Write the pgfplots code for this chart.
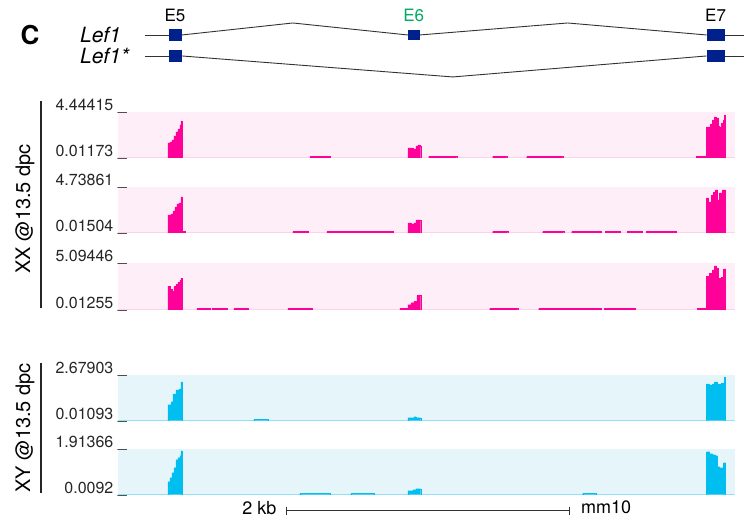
\documentclass[border=0pt]{standalone}
\usepackage{fontspec}
\setmainfont{TeX Gyre Heros}
\usepackage{pgfplots}
\pgfplotsset{compat=1.18}
\definecolor{pk}{RGB}{255,0,153}
\definecolor{pkbg}{RGB}{253,238,248}
\definecolor{bl}{RGB}{0,190,240}
\definecolor{blbg}{RGB}{230,245,250}
\definecolor{navy}{RGB}{0,32,140}
\definecolor{egreen}{RGB}{0,170,100}
\definecolor{gl}{RGB}{50,50,50}
\pgfplotsset{track/.style={
  scale only axis, width=617pt, height=46pt, xmin=118, xmax=735,
  axis line style={draw=none}, tick style={draw=none}, xtick=\empty,
  anchor=south west, clip=true,
  yticklabel style={anchor=base east, inner sep=0pt, xshift=9pt, yshift=1pt,
     font=\fontsize{16}{16}\selectfont, text=black!85},
}}
\begin{document}
\begin{tikzpicture}
\path (0,0) rectangle (744pt,518pt);
% ---------- canvas: gene model, labels, scale bar ----------
\begin{axis}[at={(0pt,0pt)}, anchor=south west, scale only axis,
  width=744pt, height=518pt, xmin=0, xmax=744, ymin=0, ymax=518,
  y dir=reverse, hide axis, clip=false]
% Lef1 introns
\addplot[gl, line width=0.9pt] coordinates {(145,35)(169,35)};
\addplot[gl, line width=0.9pt] coordinates {(182,35)(293,23)(408,35)};
\addplot[gl, line width=0.9pt] coordinates {(420,35)(568,23)(707,35)};
\addplot[gl, line width=0.9pt] coordinates {(725,35)(744,35)};
% Lef1* introns
\addplot[gl, line width=0.9pt] coordinates {(145,56)(169,56)};
\addplot[gl, line width=0.9pt] coordinates {(182,56)(453,77)(707,56)};
\addplot[gl, line width=0.9pt] coordinates {(725,56)(744,56)};
% exons
\addplot[fill=navy, draw=none] coordinates {(169,29)(182,29)(182,41)(169,41)} -- cycle;
\addplot[fill=navy, draw=none] coordinates {(408,30)(420,30)(420,40)(408,40)} -- cycle;
\addplot[fill=navy, draw=none] coordinates {(707,29)(725,29)(725,41)(707,41)} -- cycle;
\addplot[fill=navy, draw=none] coordinates {(169,50)(182,50)(182,62)(169,62)} -- cycle;
\addplot[fill=navy, draw=none] coordinates {(707,50)(725,50)(725,62)(707,62)} -- cycle;
\node[font=\fontsize{17}{17}\selectfont] at (axis cs:175,15) {E5};
\node[font=\fontsize{17}{17}\selectfont, text=egreen] at (axis cs:414,15) {E6};
\node[font=\fontsize{17}{17}\selectfont] at (axis cs:716,15) {E7};
\node[font=\fontsize{21}{21}\selectfont\itshape, anchor=west, inner sep=0pt] at (axis cs:80,35) {Lef1};
\node[font=\fontsize{21}{21}\selectfont\itshape, anchor=west, inner sep=0pt] at (axis cs:80,56) {Lef1*};
\node[font=\fontsize{26}{26}\selectfont\bfseries] at (axis cs:30,35) {C};
% side labels
\addplot[black!85, line width=2.4pt] coordinates {(41,101)(41,308)};
\addplot[black!85, line width=2.4pt] coordinates {(41,363)(41,493)};
\node[rotate=90, font=\fontsize{20}{20}\selectfont] at (axis cs:25,209) {XX @13.5 dpc};
\node[rotate=90, font=\fontsize{20}{20}\selectfont] at (axis cs:25,428) {XY @13.5 dpc};
% scale bar
\addplot[gl, line width=0.9pt] coordinates {(287,511)(570,511)};
\addplot[gl, line width=0.9pt] coordinates {(287,507)(287,515)};
\addplot[gl, line width=0.9pt] coordinates {(570,507)(570,515)};
\node[anchor=east, font=\fontsize{18}{18}\selectfont] at (axis cs:280,508) {2 kb};
\node[anchor=west, font=\fontsize{18}{18}\selectfont] at (axis cs:578,508) {mm10};
\end{axis}
% ---------- XX track 1 ----------
\begin{axis}[track, at={(118pt,360pt)}, ymin=0.01173, ymax=4.44415,
  axis background/.style={fill=pkbg},
  ytick={0.01173,4.44415}, yticklabels={0.01173 \_, 4.44415 \_}]
\addplot[fill=pk, draw=pk, line width=0.3pt, const plot] coordinates {
(118,0)(168,1.457)(170,1.553)(172,1.746)(174,2.132)(176,2.517)(178,2.806)(180,3.192)(181,3.577)(182,0)
(310,0.156)(330,0)
(408,0.975)(413,0.879)(416,1.168)(418,1.264)(420,1.168)(421,0)
(429,0.156)(457,0)(493,0.156)(507,0)(527,0.156)(563,0)(697,0.156)
(707,2.999)(711,3.288)(713,3.673)(715,3.962)(717,3.866)(719,3.095)(720,2.999)(722,3.384)(724,3.673)(725,4.155)(726,0)(735,0)} \closedcycle;
\end{axis}
% ---------- XX track 2 ----------
\begin{axis}[track, at={(118pt,285pt)}, ymin=0.01504, ymax=4.73861,
  axis background/.style={fill=pkbg},
  ytick={0.01504,4.73861}, yticklabels={0.01504 \_, 4.73861 \_}]
\addplot[fill=pk, draw=pk, line width=0.3pt, const plot] coordinates {
(118,0)(168,1.863)(171,1.966)(173,2.274)(175,2.685)(177,2.993)(179,3.096)(181,3.712)(182,0.169)(185,0)
(293,0.169)(308,0)(327,0.169)(393,0)
(408,1.042)(411,0.939)(414,1.042)(416,1.350)(421,0)
(493,0.169)(508,0)(543,0.169)(564,0)(572,0.169)(602,0)(606,0.169)(621,0)(628,0.169)(643,0)(647,0.169)(661,0)(662,0.169)(677,0)
(707,3.609)(709,3.198)(712,3.917)(714,4.225)(716,4.431)(718,3.404)(720,4.123)(723,4.431)(726,0)(735,0)} \closedcycle;
\end{axis}
% ---------- XX track 3 ----------
\begin{axis}[track, at={(118pt,208pt)}, height=47pt, ymin=0.01255, ymax=5.09446,
  axis background/.style={fill=pkbg},
  ytick={0.01255,5.09446}, yticklabels={0.01255 \_, 5.09446 \_}]
\addplot[fill=pk, draw=pk, line width=0.3pt, const plot] coordinates {
(118,0)(168,2.554)(170,2.222)(172,2.001)(174,2.554)(176,2.775)(178,2.995)(180,3.216)(181,3.437)(182,0)
(197,0.178)(210,0)(212,0.178)(227,0)(234,0.178)(248,0)(288,0.178)(312,0)(400,0.178)
(408,0.565)(411,0.786)(414,0.896)(417,1.559)(421,0)
(490,0.178)(518,0)(539,0.178)(602,0)(605,0.178)(636,0)(698,0.178)
(707,3.658)(710,3.990)(713,4.321)(715,4.763)(717,4.542)(719,3.437)(722,3.548)(724,4.432)(726,0)(735,0)} \closedcycle;
\end{axis}
% ---------- XY track 1 ----------
\begin{axis}[track, at={(118pt,97pt)}, ymin=0.01093, ymax=2.67903,
  axis background/.style={fill=blbg},
  ytick={0.01093,2.67903}, yticklabels={0.01093 \_, 2.67903 \_}]
\addplot[fill=bl, draw=bl, line width=0.3pt, const plot] coordinates {
(118,0)(168,0.939)(171,1.113)(173,1.577)(176,1.809)(179,1.867)(181,2.273)(182,0)
(254,0.098)(268,0)
(408,0.185)(414,0.243)(416,0.185)(421,0)
(707,2.157)(710,2.099)(713,2.157)(715,2.273)(718,1.577)(719,2.157)(722,2.215)(725,2.563)(726,0)(735,0)} \closedcycle;
\end{axis}
% ---------- XY track 2 ----------
\begin{axis}[track, at={(118pt,23pt)}, ymin=0.0092, ymax=1.91366,
  axis background/.style={fill=blbg},
  ytick={0.0092,1.91366}, yticklabels={0.0092 \_, 1.91366 \_}]
\addplot[fill=bl, draw=bl, line width=0.3pt, const plot] coordinates {
(118,0)(168,0.547)(170,0.713)(172,0.920)(174,1.127)(176,1.458)(178,1.541)(180,1.624)(181,1.831)(182,0)
(300,0.071)(330,0)(351,0.071)(374,0)
(408,0.175)(413,0.216)(416,0.258)(421,0)
(583,0.071)(597,0)
(707,1.789)(710,1.706)(713,1.665)(716,1.624)(718,1.168)(720,1.127)(724,1.334)(726,0)(735,0)} \closedcycle;
\end{axis}
\end{tikzpicture}
\end{document}
